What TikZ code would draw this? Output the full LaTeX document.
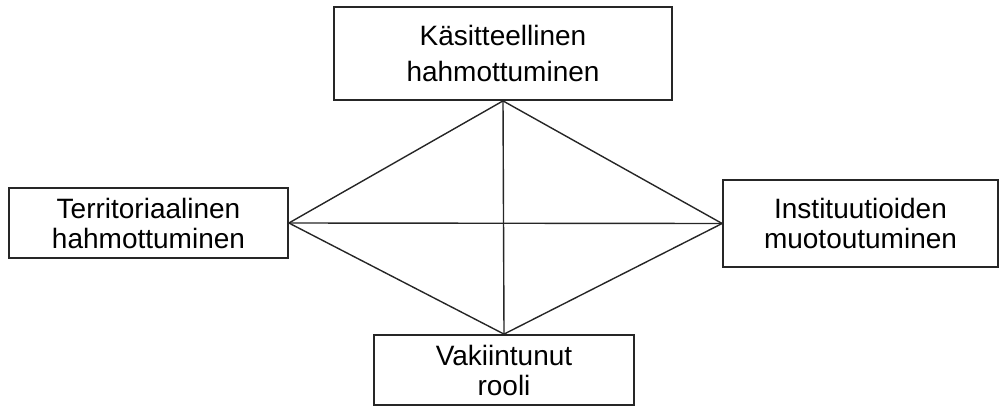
\documentclass[tikz,border=0pt]{standalone}
\usepackage{fontspec}
\setmainfont{Liberation Sans}
\begin{document}
\begin{tikzpicture}[x=1pt,y=-1pt,
  box/.style={draw=black!85,line width=1.8pt,fill=white,rectangle,inner sep=0pt,align=center,
    font=\fontsize{28}{30}\selectfont},
  link/.style={draw=black!85,line width=1.4pt}]
\useasboundingbox (0,0) rectangle (1000,407);
\node[box,minimum width=338pt,minimum height=93pt,font=\fontsize{28}{36}\selectfont] (top) at (503,53.5) {Käsitteellinen\\hahmottuminen};
\node[box,minimum width=279pt,minimum height=70pt] (left) at (148.5,223) {Territoriaalinen\\hahmottuminen};
\node[box,minimum width=275pt,minimum height=87pt] (right) at (860.5,223.5) {Instituutioiden\\muotoutuminen};
\node[box,minimum width=260pt,minimum height=70pt] (bottom) at (504,370) {Vakiintunut\\rooli};
\draw[link] (top.south) -- (left.east);
\draw[link] (top.south) -- (right.west);
\draw[link] (top.south) -- (bottom.north);
\draw[link] (left.east) -- (right.west);
\draw[link] (left.east) -- (bottom.north);
\draw[link] (right.west) -- (bottom.north);
\end{tikzpicture}
\end{document}
